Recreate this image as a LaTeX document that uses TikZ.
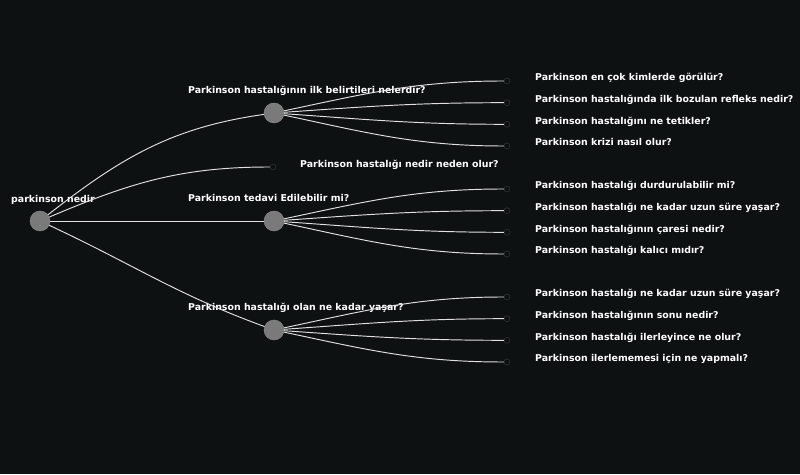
\documentclass[tikz,border=0pt]{standalone}
\usepackage{fontspec}
\setmainfont{DejaVu Sans}
\definecolor{bg}{HTML}{0E1112}
\definecolor{nodegray}{HTML}{7A7A7A}
\definecolor{dotgray}{HTML}{3A3D3E}
\definecolor{edgegray}{HTML}{E0E0E0}

\begin{document}
\begin{tikzpicture}[x=1pt,y=1pt]
\tikzset{vertex/.style = {shape=circle,fill=nodegray,draw=nodegray!85!white,inner sep=0pt,minimum size=20pt}}
\tikzset{leaf/.style = {shape=circle,fill=bg,draw=dotgray,inner sep=0pt,minimum size=6pt}}
\tikzset{edge/.style = {draw=edgegray,line width=.95pt}}
\tikzset{lbl/.style = {text=white,font=\bfseries\fontsize{9.4}{11}\selectfont,anchor=base west,inner sep=0pt}}

\fill[bg] (0,0) rectangle (800,474);

\node[vertex] (root) at (40,253) {};
\node[vertex] (a) at (274,361) {};
\node[vertex] (b) at (274,253) {};
\node[vertex] (c) at (274,144) {};
\node[leaf] (m) at (273,307) {};

\node[leaf] (a1) at (507,393) {};
\node[leaf] (a2) at (507,371.3) {};
\node[leaf] (a3) at (507,349.7) {};
\node[leaf] (a4) at (507,328) {};
\node[leaf] (b1) at (507,285) {};
\node[leaf] (b2) at (507,263.3) {};
\node[leaf] (b3) at (507,241.7) {};
\node[leaf] (b4) at (507,220) {};
\node[leaf] (c1) at (507,177) {};
\node[leaf] (c2) at (507,155.3) {};
\node[leaf] (c3) at (507,133.7) {};
\node[leaf] (c4) at (507,112) {};

%labels
\node[lbl] (lroot) at (11,271.5) {parkinson nedir};
\node[lbl] (la) at (188,380.5) {Parkinson hastalığının ilk belirtileri nelerdir?};
\node[lbl] (lm) at (300,306.5) {Parkinson hastalığı nedir neden olur?};
\node[lbl] (lb) at (188,272.5) {Parkinson tedavi Edilebilir mi?};
\node[lbl] (lc) at (188,163.5) {Parkinson hastalığı olan ne kadar yaşar?};

\node[lbl] (la1) at (535,393) {Parkinson en çok kimlerde görülür?};
\node[lbl] (la2) at (535,371.3) {Parkinson hastalığında ilk bozulan refleks nedir?};
\node[lbl] (la3) at (535,349.7) {Parkinson hastalığını ne tetikler?};
\node[lbl] (la4) at (535,328) {Parkinson krizi nasıl olur?};
\node[lbl] (lb1) at (535,285) {Parkinson hastalığı durdurulabilir mi?};
\node[lbl] (lb2) at (535,263.3) {Parkinson hastalığı ne kadar uzun süre yaşar?};
\node[lbl] (lb3) at (535,241.7) {Parkinson hastalığının çaresi nedir?};
\node[lbl] (lb4) at (535,220) {Parkinson hastalığı kalıcı mıdır?};
\node[lbl] (lc1) at (535,177) {Parkinson hastalığı ne kadar uzun süre yaşar?};
\node[lbl] (lc2) at (535,155.3) {Parkinson hastalığının sonu nedir?};
\node[lbl] (lc3) at (535,133.7) {Parkinson hastalığı ilerleyince ne olur?};
\node[lbl] (lc4) at (535,112) {Parkinson ilerlememesi için ne yapmalı?};

%edges
\draw[edge] (root) to[out=38,in=188] (a);
\draw[edge] (root) to[out=23,in=180] (m);
\draw[edge] (root) -- (b);
\draw[edge] (root) to[out=-25,in=160] (c);

\draw[edge] (a) to[out=12,in=180] (a1);
\draw[edge] (a) to[out=4,in=180] (a2);
\draw[edge] (a) to[out=-4,in=180] (a3);
\draw[edge] (a) to[out=-12,in=180] (a4);
\draw[edge] (b) to[out=12,in=180] (b1);
\draw[edge] (b) to[out=4,in=180] (b2);
\draw[edge] (b) to[out=-4,in=180] (b3);
\draw[edge] (b) to[out=-12,in=180] (b4);
\draw[edge] (c) to[out=12,in=180] (c1);
\draw[edge] (c) to[out=4,in=180] (c2);
\draw[edge] (c) to[out=-4,in=180] (c3);
\draw[edge] (c) to[out=-12,in=180] (c4);

\end{tikzpicture}
\end{document}
